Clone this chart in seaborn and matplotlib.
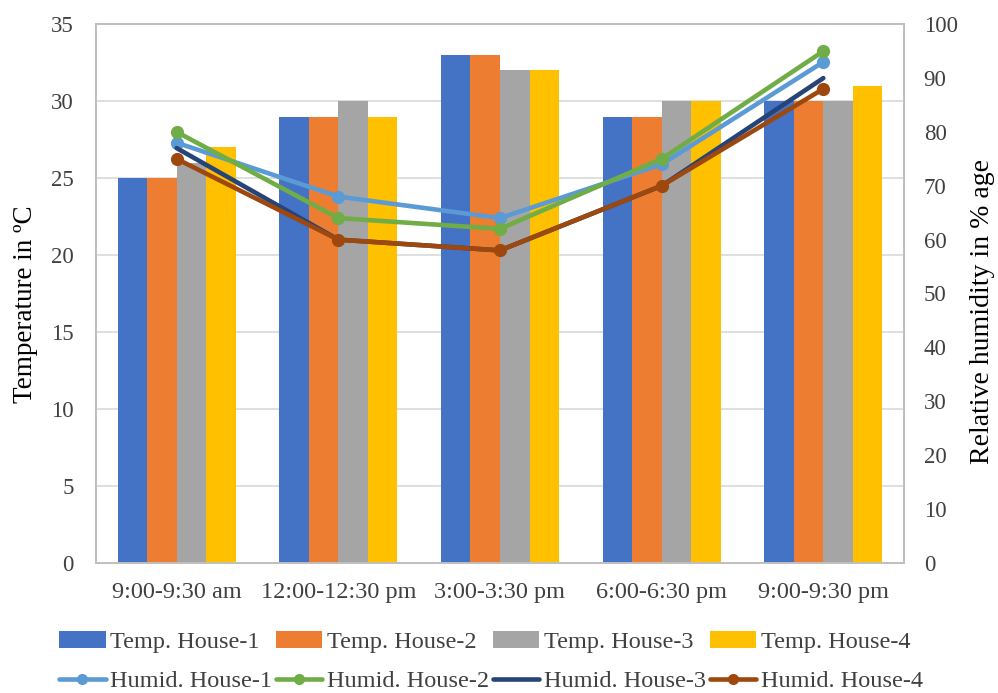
import matplotlib
matplotlib.use("Agg")
import matplotlib.pyplot as plt
import seaborn as sns
import pandas as pd
import numpy as np
from matplotlib.patches import Patch
from matplotlib.lines import Line2D

categories = ["9:00-9:30 am", "12:00-12:30 pm", "3:00-3:30 pm", "6:00-6:30 pm", "9:00-9:30 pm"]
temp_h1 = [25, 29, 33, 29, 30]
temp_h2 = [25, 29, 33, 29, 30]
temp_h3 = [26, 30, 32, 30, 30]
temp_h4 = [27, 29, 32, 30, 31]
humid_h1 = [78, 68, 64, 74, 93]
humid_h2 = [80, 64, 62, 75, 95]
humid_h3 = [77, 60, 58, 70, 90]
humid_h4 = [75, 60, 58, 70, 88]

temp_names = ["Temp. House-1", "Temp. House-2", "Temp. House-3", "Temp. House-4"]
humid_names = ["Humid. House-1", "Humid. House-2", "Humid. House-3", "Humid. House-4"]
bar_colors = ["#4472C4", "#ED7D31", "#A5A5A5", "#FFC000"]
line_colors = ["#5B9BD5", "#70AD47", "#264478", "#9E480E"]
line_markers = ["o", "o", None, "o"]

sns.set_theme(style="white")
plt.rcParams['font.family'] = ['Liberation Serif', 'DejaVu Serif']

temps = [temp_h1, temp_h2, temp_h3, temp_h4]
humids = [humid_h1, humid_h2, humid_h3, humid_h4]

df_t = pd.DataFrame([
    {"Time": c, "Series": n, "Value": v}
    for n, vals in zip(temp_names, temps) for c, v in zip(categories, vals)
])

fig = plt.figure(figsize=(9.98, 6.93), dpi=100)
ax = fig.add_axes([0.096, 0.188, 0.81, 0.777])

sns.barplot(data=df_t, x="Time", y="Value", hue="Series", order=categories,
            hue_order=temp_names, palette=bar_colors, width=0.73, ax=ax,
            saturation=1, legend=False, errorbar=None, linewidth=0, zorder=2)

ax.set_ylim(0, 35)
ax.set_yticks(np.arange(0, 36, 5))
ax.set_xlim(-0.5, len(categories) - 0.5)
ax.yaxis.grid(True, color="#D9D9D9", linewidth=1.2, zorder=0)
ax.set_axisbelow(True)
for s in ax.spines.values():
    s.set_color("#BFBFBF")
    s.set_linewidth(1.2)
ax.set_xlabel("")
ax.set_ylabel("Temperature in ºC", fontsize=19.5, color="#000000")
ax.yaxis.set_label_coords(-0.072, 0.48)
ax.tick_params(axis="x", labelsize=17.5, colors="#404040", length=0, pad=14)
ax.tick_params(axis="y", labelsize=16.5, colors="#404040", length=0, pad=16)

ax2 = ax.twinx()
xs = np.arange(len(categories))
df_h = pd.DataFrame([
    {"x": x, "Series": n, "Value": v}
    for n, vals in zip(humid_names, humids) for x, v in zip(xs, vals)
])
for n, col, mk in zip(humid_names, line_colors, line_markers):
    sub = df_h[df_h["Series"] == n]
    sns.lineplot(data=sub, x="x", y="Value", color=col, linewidth=3.3,
                 marker=mk if mk else None, markersize=9.5 if mk else 0,
                 markeredgewidth=0, ax=ax2, legend=False, zorder=3)
ax2.set_ylim(0, 100)
ax2.set_yticks(np.arange(0, 101, 10))
ax2.set_xlim(-0.5, len(categories) - 0.5)
for s in ax2.spines.values():
    s.set_color("#BFBFBF")
    s.set_linewidth(1.2)
ax2.set_xlabel("")
ax2.set_ylabel("Relative humidity in % age", fontsize=20, color="#000000")
ax2.yaxis.set_label_coords(1.082, 0.466)
ax2.tick_params(axis="y", labelsize=16.5, colors="#404040", length=0, pad=14)

bar_handles = [Patch(facecolor=c, edgecolor="none") for c in bar_colors]
line_handles = [Line2D([0], [0], color=c, linewidth=3.3, marker=(mk if mk else None),
                       markersize=8, markeredgewidth=0) for c, mk in zip(line_colors, line_markers)]
handles, labels = [], []
for bh, bl, lh, ll in zip(bar_handles, temp_names, line_handles, humid_names):
    handles += [bh, lh]
    labels += [bl, ll]
fig.legend(handles, labels, loc="upper center", bbox_to_anchor=(0.492, 0.121), ncol=4,
           frameon=False, fontsize=17.5, handlelength=1.9, handleheight=0.7,
           columnspacing=0.15, handletextpad=0.2, labelspacing=0.7,
           labelcolor="#404040")

fig.savefig("out.png", dpi=100)
